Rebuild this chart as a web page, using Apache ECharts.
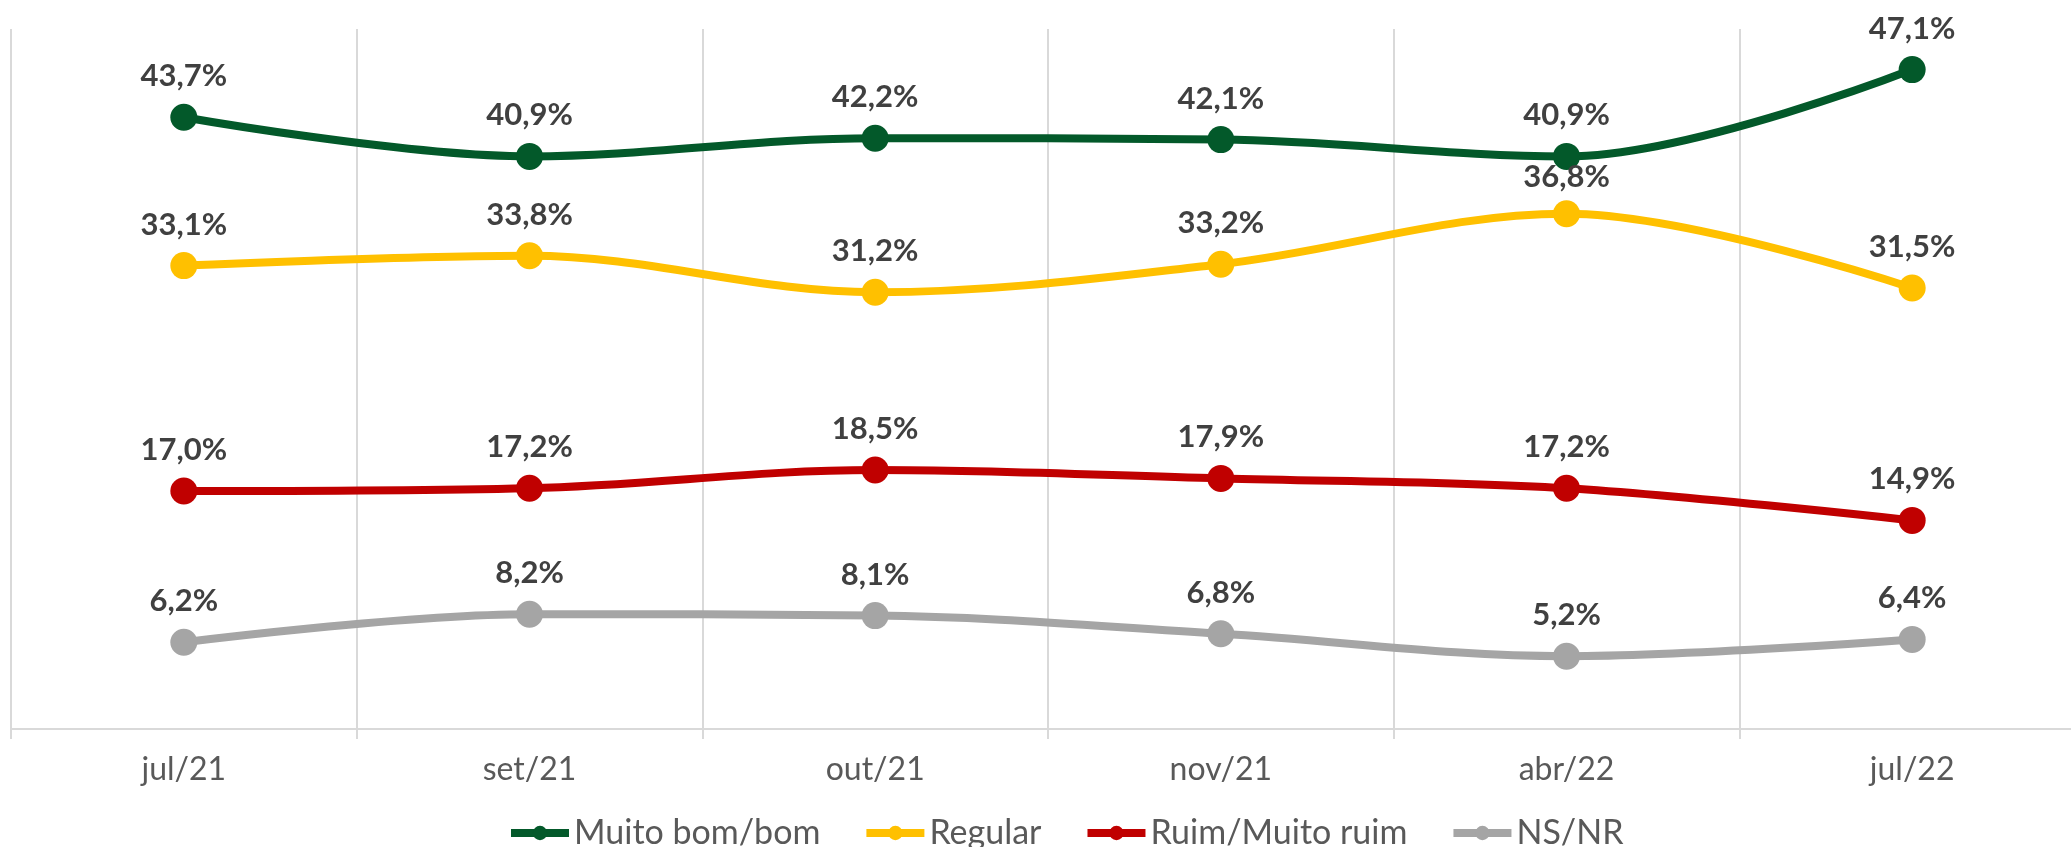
<!DOCTYPE html>
<html>
<head>
<meta charset="utf-8">
<script src="https://cdn.jsdelivr.net/npm/echarts@6/dist/echarts.min.js"></script>
<style>
  html, body { margin: 0; padding: 0; background: #fff; }
  #chart { width: 2071px; height: 847px; }
</style>
</head>
<body>
<div id="chart"></div>
<script>
const months = ['jul/21', 'set/21', 'out/21', 'nov/21', 'abr/22', 'jul/22']
const muitoBom = [43.7, 40.9, 42.2, 42.1, 40.9, 47.1]
const regular = [33.1, 33.8, 31.2, 33.2, 36.8, 31.5]
const ruim = [17.0, 17.2, 18.5, 17.9, 17.2, 14.9]
const nsnr = [6.2, 8.2, 8.1, 6.8, 5.2, 6.4]

const labelColor = '#404040'
const textColor = '#595959'
const gridColor = '#d9d9d9'

const fmt = (p) => p.value.toFixed(1).replace('.', ',') + '%'

const makeSeries = (name, data, color) => ({
  name,
  type: 'line',
  data,
  smooth: 0.35,
  symbol: 'circle',
  symbolSize: 27,
  lineStyle: { color, width: 8 },
  itemStyle: { color },
  label: {
    show: true,
    position: 'top',
    distance: 12,
    formatter: fmt,
    color: labelColor,
    fontFamily: 'Lato',
    fontWeight: 'bold',
    fontSize: 31,
  },
  emphasis: { disabled: true },
})

// the 36,8% label sits a bit closer to its point, as in the original
const regularData = regular.map((v, i) =>
  i === 4 ? { value: v, label: { distance: 8 } } : v,
)

const chart = echarts.init(document.getElementById('chart'))
chart.setOption({
  animation: false,
  grid: { left: 11, top: 29, right: -14, height: 700, outerBoundsMode: 'none' },
  legend: {
    left: 502,
    top: 811,
    itemWidth: 58,
    itemHeight: 18,
    itemGap: 42,
    lineStyle: { width: 8 },
    textStyle: { color: textColor, fontFamily: 'Lato', fontSize: 34 },
  },
  xAxis: {
    type: 'category',
    data: months,
    boundaryGap: true,
    axisLine: { lineStyle: { color: gridColor, width: 2 } },
    axisTick: { show: true, length: 10, lineStyle: { color: gridColor, width: 2 } },
    splitLine: { show: true, lineStyle: { color: gridColor, width: 2 } },
    axisLabel: { color: textColor, fontFamily: 'Lato', fontSize: 32, margin: 25 },
  },
  yAxis: {
    type: 'value',
    min: 0,
    max: 50,
    show: false,
    splitLine: { show: false },
  },
  series: [
    makeSeries('Muito bom/bom', muitoBom, '#03592a'),
    makeSeries('Regular', regularData, '#ffc000'),
    makeSeries('Ruim/Muito ruim', ruim, '#c00000'),
    makeSeries('NS/NR', nsnr, '#a5a5a5'),
  ],
})
</script>
</body>
</html>
